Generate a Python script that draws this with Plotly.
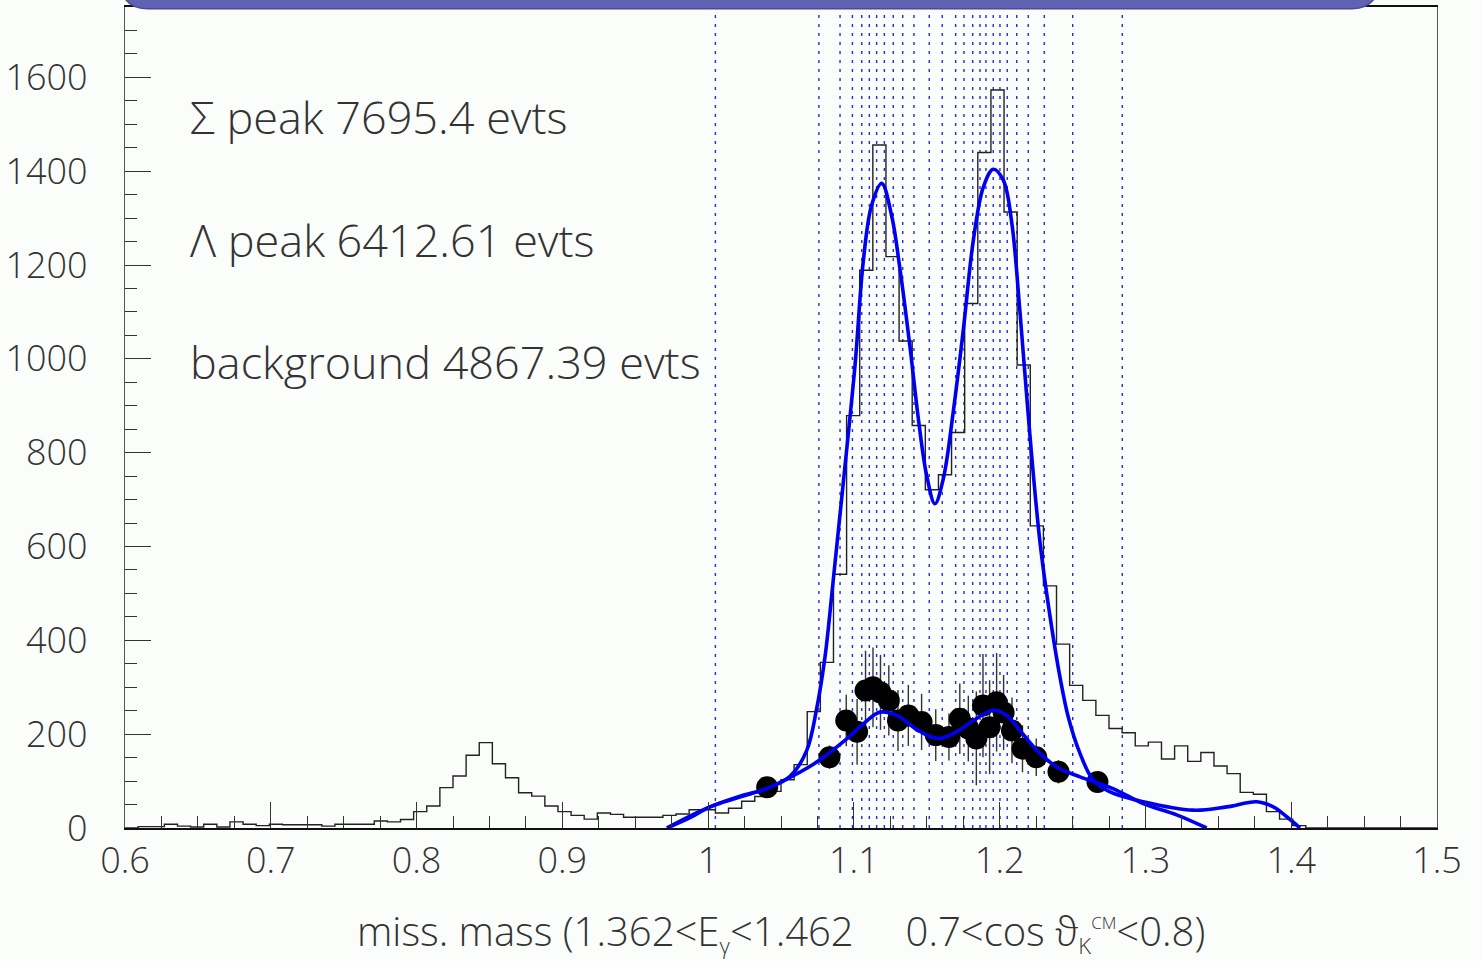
import plotly.graph_objects as go

# ---------------- data ----------------
bin_lo = 0.6
bin_w = 0.009
hist_counts = [0, 3, 3, 8, 4, 2, 8, 2, 13, 8,
               5, 8, 7, 7, 7, 4, 8, 8, 8, 15,
               13, 18, 35, 47, 86, 111, 155, 182, 137, 107,
               75, 68, 47, 35, 27, 19, 32, 29, 23, 23,
               23, 27, 30, 39, 39, 32, 42, 57, 67, 78,
               103, 135, 248, 353, 541, 879, 1189, 1456, 1218, 1038,
               858, 721, 753, 843, 1118, 1440, 1573, 1313, 987, 644,
               516, 392, 304, 272, 240, 212, 203, 175, 183, 147,
               175, 142, 161, 132, 116, 76, 72, 35, 19, 5,
               0, 0, 0, 0, 0, 0, 0, 0, 0, 0]

slice_edges = [1.005, 1.076, 1.0905, 1.099, 1.1054, 1.1106, 1.1156, 1.1209, 1.127,
               1.1335, 1.1412, 1.1517, 1.1606, 1.1698, 1.1755, 1.1815, 1.1865, 1.1906,
               1.1956, 1.2002, 1.2052, 1.2117, 1.2196, 1.2306, 1.2501, 1.2841]

pts_y = [87, 151, 229, 205, 293, 300, 289, 272, 229, 240, 226, 198, 194,
         233, 212, 191, 261, 215, 268, 246, 208, 169, 151, 120, 98]
pts_err = [20, 25, 55, 70, 85, 85, 80, 75, 65, 65, 60, 55, 50,
           75, 70, 100, 110, 100, 105, 80, 70, 50, 40, 25, 20]

total_x = [0.9718, 0.9876, 1.0013, 1.0219, 1.0402, 1.0562, 1.0676, 1.0745, 1.0802,
           1.0859, 1.0927, 1.1008, 1.1064, 1.1122, 1.1191, 1.1259, 1.1316, 1.1385,
           1.1442, 1.1499, 1.1556, 1.1613, 1.1682, 1.1751, 1.1819, 1.1888, 1.1956,
           1.2025, 1.2083, 1.2139, 1.2208, 1.2277, 1.2346, 1.2414, 1.2471, 1.2551,
           1.2642, 1.2757, 1.2985, 1.3328, 1.3557, 1.3763, 1.3877, 1.3969, 1.406]
total_y = [0, 22, 45, 68, 84, 110, 165, 255, 365,
           530, 735, 987, 1207, 1328, 1374, 1305, 1192, 1025,
           873, 752, 691, 744, 888, 1063, 1252, 1366, 1404,
           1381, 1290, 1101, 835, 608, 450, 321, 236, 159,
           102, 77, 56, 38, 45, 56, 45, 24, 0]

sig_x = [0.9718, 1.0013, 1.0402, 1.0493, 1.0722, 1.0951, 1.1064, 1.1179, 1.1294,
         1.1408, 1.1522, 1.1591, 1.1705, 1.1819, 1.1956, 1.2048, 1.2139, 1.2254,
         1.2391, 1.2551, 1.2777, 1.2985, 1.3214, 1.342]
sig_y = [0, 45, 84, 97, 136, 190, 222, 247, 240,
         215, 195, 191, 205, 229, 251, 240, 208, 166,
         130, 109, 84, 52, 28, 0]

x_ticks = [0.6, 0.7, 0.8, 0.9, 1.0, 1.1, 1.2, 1.3, 1.4, 1.5]
x_tick_text = ["0.6", "0.7", "0.8", "0.9", "1", "1.1", "1.2", "1.3", "1.4", "1.5"]
y_ticks = [0, 200, 400, 600, 800, 1000, 1200, 1400, 1600]
y_tick_text = ["0", "200", "400", "600", "800", "1000", "1200", "1400", "1600"]

stat_labels = ["\u03a3 peak 7695.4 evts", "\u039b peak 6412.61 evts", "background 4867.39 evts"]
stat_ypos = [0.8665, 0.717, 0.5686]

NB = "\u00a0"
SMALL = '<span style="font-size:22px">{}</span>'
TINY = '<span style="font-size:17px">{}</span>'
x_title = ("miss. mass (1.362<E<sub>" + SMALL.format("\u03b3") + "</sub><1.462" + NB * 5 +
           "0.7<cos \u03d1<sub>" + SMALL.format("K") + "</sub><sup>" + TINY.format("CM") +
           "</sup><0.8)")

# ---------------- figure ----------------
FONT = "Open Sans"
TXT = "#333333"

hist_x = [bin_lo + i * bin_w for i in range(len(hist_counts) + 1)]
hist_y = hist_counts + [hist_counts[-1]]
pts_x = [(a + b) / 2 for a, b in zip(slice_edges[:-1], slice_edges[1:])]

fig = go.Figure()

fig.add_trace(go.Scatter(x=hist_x, y=hist_y, mode="lines", line_shape="hv",
                         line=dict(color="#222222", width=1.4), hoverinfo="skip"))

fig.add_trace(go.Scatter(x=pts_x, y=pts_y, mode="markers",
                         marker=dict(color="black", size=22),
                         error_y=dict(type="data", array=pts_err, color="#333333",
                                      thickness=1.4, width=0)))

fig.add_trace(go.Scatter(x=sig_x, y=sig_y, mode="lines", line_shape="spline",
                         line=dict(color="#0000f0", width=3.6)))
fig.add_trace(go.Scatter(x=total_x, y=total_y, mode="lines", line_shape="spline",
                         line=dict(color="#0000f0", width=3.6)))

for xe in slice_edges:
    fig.add_shape(type="line", xref="x", yref="paper", x0=xe, x1=xe, y0=0, y1=1,
                  line=dict(color="rgba(40,40,225,1)", width=1.4, dash="3px,6px"),
                  layer="below")

# top clipped title box
fig.add_shape(type="path", xref="x", yref="paper",
              path="M 0.6,1.01 Q 0.605,0.998 0.615,0.998 L 1.442,0.998 Q 1.452,0.998 1.457,1.01 Z",
              fillcolor="#6262b2", line=dict(color="#4a4a9a", width=1.5), layer="above")

for txt, yp in zip(stat_labels, stat_ypos):
    fig.add_annotation(text=txt, xref="paper", yref="paper", x=0.0482, y=yp,
                       xanchor="left", yanchor="middle", showarrow=False,
                       font=dict(family=FONT, size=45, color=TXT, weight=300))

fig.add_annotation(text=x_title, xref="paper", yref="paper", x=0.5, y=-0.1262,
                   xanchor="center", yanchor="middle", showarrow=False,
                   font=dict(family=FONT, size=40, color=TXT, weight=300))

fig.update_layout(
    width=1481, height=961,
    margin=dict(l=125, r=44, t=5, b=133),
    paper_bgcolor="#fbfdfb", plot_bgcolor="#fbfdfb",
    showlegend=False,
    font=dict(family=FONT, color=TXT),
)
fig.update_xaxes(range=[0.6, 1.5], tickvals=x_ticks, ticktext=x_tick_text,
                 ticks="inside", ticklen=26, tickwidth=1.3, tickcolor="#333333",
                 minor=dict(dtick=0.025, ticks="inside", ticklen=12, tickwidth=1.3,
                            tickcolor="#333333", showgrid=False),
                 showline=True, linecolor="#111111", linewidth=1.6, mirror=True,
                 showgrid=False, zeroline=False,
                 tickfont=dict(family=FONT, size=36, color=TXT, weight=300),
                 ticklabelstandoff=0)
fig.update_yaxes(range=[0, 1750], tickvals=y_ticks, ticktext=y_tick_text,
                 ticks="inside", ticklen=26, tickwidth=1.3, tickcolor="#333333",
                 minor=dict(dtick=50, ticks="inside", ticklen=12, tickwidth=1.3,
                            tickcolor="#333333", showgrid=False),
                 showline=True, linecolor="#555555", linewidth=1.3, mirror=True,
                 showgrid=False, zeroline=False,
                 tickfont=dict(family=FONT, size=36, color=TXT, weight=300),
                 ticklabelstandoff=29)

fig.write_html("out.html")
